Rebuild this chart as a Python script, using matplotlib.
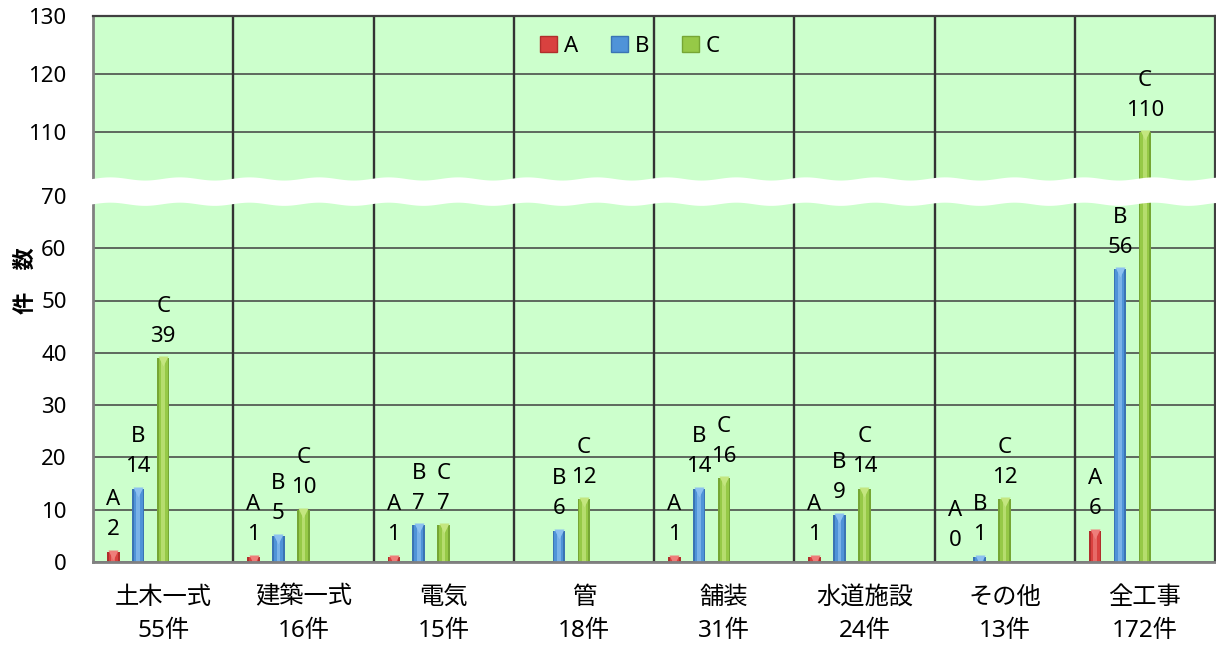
import numpy as np
import matplotlib.pyplot as plt
from matplotlib.patches import Patch, Polygon
from matplotlib.transforms import offset_copy

plt.rcParams['font.family'] = ['Noto Sans', 'Noto Sans CJK JP', 'DejaVu Sans']

categories = ['土木一式', '建築一式', '電気', '管', '舗装', '水道施設', 'その他', '全工事']
totals = [55, 16, 15, 18, 31, 24, 13, 172]
series_names = ['A', 'B', 'C']
a_counts = [2, 1, 1, 0, 1, 1, 0, 6]
b_counts = [14, 5, 7, 6, 14, 9, 1, 56]
c_counts = [39, 10, 7, 12, 16, 14, 12, 110]
# the A label is left off for 管
a_labelled = [True, True, True, False, True, True, True, True]
y_ticks = [0, 10, 20, 30, 40, 50, 60, 70, 110, 120, 130]

# broken axis: 0-70 and 110-130 get the room, 70-110 is squeezed
knots = np.array([-1000.0, 0.0, 70.0, 110.0, 130.0, 1000.0])
pix = np.array([-1000 * 5.23, 0.0, 366.1, 430.0, 546.0, 546.0 + 870 * 5.8])

def fwd(v):
    return np.interp(v, knots, pix)

def inv(p):
    return np.interp(p, pix, knots)

fig = plt.figure(figsize=(12.16, 6.46), dpi=100)
ax = fig.add_axes([93 / 1216, 1 - 562 / 646, 1122 / 1216, 546 / 646])
ax.set_facecolor('#CCFFCC')
ax.set_yscale('function', functions=(fwd, inv))
ax.set_ylim(0, 130)
ax.set_xlim(-0.5, 7.5)

styles = [  # (dark edge, body, highlight)
    ('#B02E2C', '#D9413F', '#EE7E7A'),
    ('#3A74B4', '#4F93D8', '#8CC0F0'),
    ('#76A634', '#96C947', '#C4E680'),
]
offsets = [-0.355, -0.178, 0.0]
w = 0.088
x = np.arange(len(categories))
cap_tf = offset_copy(ax.transData, fig=fig, x=0, y=-3, units='dots')

for k, vals in enumerate([a_counts, b_counts, c_counts]):
    dark, body, light = styles[k]
    xs = x + offsets[k]
    ax.bar(xs, vals, w, color=dark, zorder=2)
    ax.bar(xs, vals, w * 0.72, color=body, zorder=2.1)
    ax.bar(xs, vals, w * 0.3, color=light, alpha=0.7, zorder=2.2, linewidth=0)
    nz = [i for i, v in enumerate(vals) if v > 0]
    ax.plot(xs[nz], np.array(vals)[nz], 'v', transform=cap_tf, ms=6.5,
            color=light, mec='none', zorder=2.3)
    for i, v in enumerate(vals):
        if k == 0 and not a_labelled[i]:
            continue
        ax.annotate(str(v), (xs[i], v), xytext=(0, 22), textcoords='offset pixels',
                    ha='center', va='center', fontsize=16, zorder=6)
        ax.annotate(series_names[k], (xs[i], v), xytext=(0, 52), textcoords='offset pixels',
                    ha='center', va='center', fontsize=16, zorder=6)

# grid and category dividers
ax.set_axisbelow(True)
ax.set_yticks(y_ticks)
ax.yaxis.grid(True, color='#404040', linewidth=1.1)
for b in np.arange(0.5, 7.5, 1.0):
    ax.axvline(b, color='#333333', linewidth=1.7, zorder=1)

for side in ['left', 'bottom']:
    ax.spines[side].set_color('#808080')
    ax.spines[side].set_linewidth(2)
for side in ['top', 'right']:
    ax.spines[side].set_color('#404040')
    ax.spines[side].set_linewidth(1.6)

ax.tick_params(axis='y', length=0, pad=19, labelsize=16)
ax.tick_params(axis='x', length=0, pad=17, labelsize=17.5)
ax.set_xticks(x)
ax.set_xticklabels([f'{c}\n{n}件' for c, n in zip(categories, totals)], linespacing=1.5)

# white wavy strip over the break
y_lo = fwd(68.4) / fwd(130)
y_hi = fwd(80.6) / fwd(130)
xx = np.linspace(-0.018, 1.002, 400)
amp = 1.6 / 546
wave = amp * np.sin(2 * np.pi * xx / 0.062)
upper = np.column_stack([xx, y_hi + wave])
lower = np.column_stack([xx[::-1], y_lo + wave[::-1]])
band = Polygon(np.vstack([upper, lower]), closed=True, facecolor='white',
               edgecolor='none', transform=ax.transAxes, clip_on=False, zorder=4)
ax.add_patch(band)

handles = [Patch(facecolor=s[1], edgecolor=s[0], linewidth=1) for s in styles]
fig.legend(handles, series_names, loc='center', ncol=3, frameon=False, fontsize=16,
           bbox_to_anchor=(630 / 1216, 1 - 46 / 646), handlelength=0.75, handleheight=0.75,
           handletextpad=0.3, columnspacing=1.5)

fig.text(25 / 1216, 1 - 281 / 646, '件\u3000数', rotation=90, ha='center', va='center',
         fontsize=16, fontweight='bold', family=['Noto Sans CJK JP'])

fig.savefig('out.png', dpi=100)
